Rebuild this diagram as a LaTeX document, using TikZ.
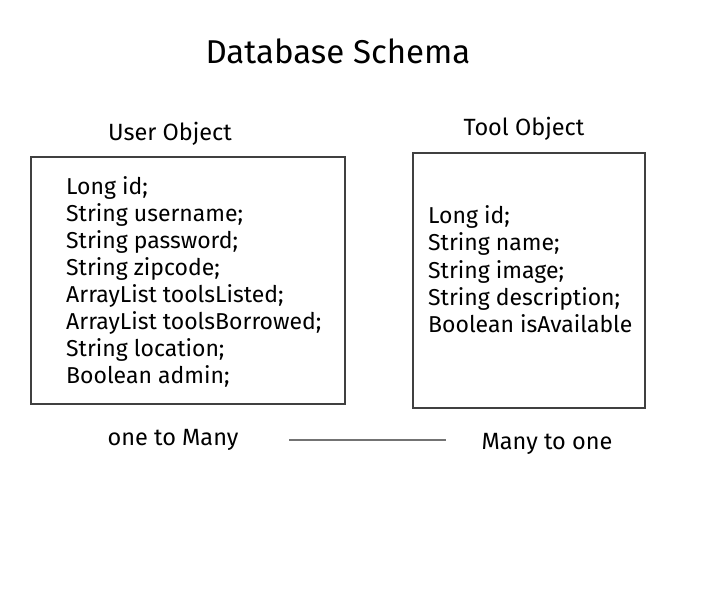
\documentclass[tikz,border=0pt]{standalone}
\usepackage{fontspec}
\setmainfont{Fira Sans}
\tikzset{
    objbox/.style={draw=black!75, line width=1.2pt},
    field/.style={anchor=west, inner sep=0pt, text height=17pt, text depth=5pt, font=\fontsize{23}{26}\selectfont},
    caption/.style={font=\fontsize{23.5}{26}\selectfont}
}

\begin{document}
\begin{tikzpicture}[x=1pt,y=-1pt]
                \useasboundingbox (0,0) rectangle (723,596);
                \node [font=\fontsize{33}{36}\selectfont] (title) at (338,51) {Database Schema};

                % user object
                \node [caption] (userlabel) at (170,134) {User Object};
                \node [objbox, minimum width=314pt, minimum height=247pt] (userbox) at (188,280.5) {};
                \foreach \t [count=\i from 0] in {Long id;, String username;, String password;, String zipcode;, ArrayList toolsListed;, ArrayList toolsBorrowed;, String location;, Boolean admin;} {
                    \node [field] (user\i) at (66,189+26.86*\i) {\t};
                }

                % tool object
                \node [caption] (toollabel) at (524,129) {Tool Object};
                \node [objbox, minimum width=232pt, minimum height=255pt] (toolbox) at (529,280.5) {};
                \foreach \t [count=\i from 0] in {Long id;, String name;, String image;, String description;, Boolean isAvailable} {
                    \node [field] (tool\i) at (428,218+27*\i) {\t};
                }

                \node [caption] (onemany) at (173,440) {one to Many};
                \node [caption] (manyone) at (547,444) {Many to one};
                \coordinate (linestart) at (289,440);
                \coordinate (lineend) at (446,440);
                \draw [black!55, line width=1.5pt] (linestart) -- (lineend);
            \end{tikzpicture}
\end{document}
